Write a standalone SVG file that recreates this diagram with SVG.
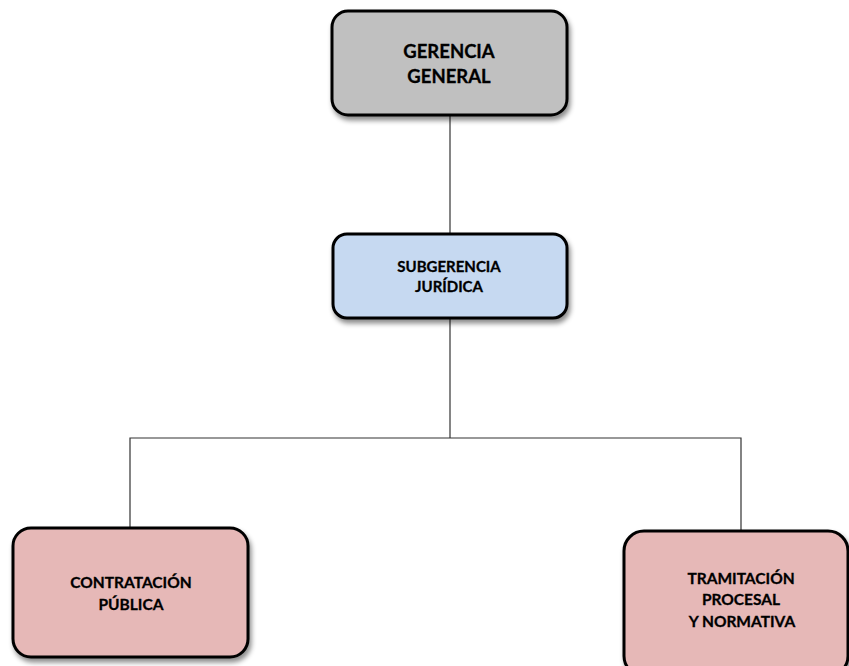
<svg xmlns="http://www.w3.org/2000/svg" width="849" height="666" viewBox="0 0 849 666">
  <style>
    .box { stroke: #000; stroke-width: 3; filter: url(#shadow); }
    .lbl { font-family: Lato, "Open Sans", "Liberation Sans", sans-serif; font-weight: bold; fill: #000; stroke: #000; stroke-width: 0.3; text-anchor: middle; }
    .conn { stroke: #333; stroke-width: 1.2; fill: none; }
  </style>
  <defs>
    <filter id="shadow" x="-10%" y="-10%" width="130%" height="140%">
      <feDropShadow dx="2" dy="4" stdDeviation="2.5" flood-color="#000" flood-opacity="0.45"/>
    </filter>
  </defs>
  <rect width="849" height="666" fill="#fff"/>

  <g id="connectors">
    <line class="conn" x1="450" y1="115" x2="450" y2="233"/>
    <line class="conn" x1="450" y1="318" x2="450" y2="438"/>
    <polyline class="conn" points="130,527 130,438 741,438 741,531"/>
  </g>

  <g id="gerencia-general">
    <rect class="box" x="332" y="11" width="235" height="104" rx="16" fill="#c0c0c0"/>
    <text class="lbl" font-size="18.5" x="449" y="58">GERENCIA</text>
    <text class="lbl" font-size="18.5" x="449" y="83">GENERAL</text>
  </g>

  <g id="subgerencia-juridica">
    <rect class="box" x="333" y="234" width="234" height="84" rx="14" fill="#c6d9f1"/>
    <text class="lbl" font-size="15" x="449" y="272">SUBGERENCIA</text>
    <text class="lbl" font-size="15" x="449" y="292">JURÍDICA</text>
  </g>

  <g id="contratacion-publica">
    <rect class="box" x="13" y="528" width="235" height="129" rx="18" fill="#e6b8b7"/>
    <text class="lbl" font-size="15.5" x="131" y="588">CONTRATACIÓN</text>
    <text class="lbl" font-size="15.5" x="131" y="610">PÚBLICA</text>
  </g>

  <g id="tramitacion-procesal">
    <rect class="box" x="624" y="531" width="224" height="145" rx="20" fill="#e6b8b7"/>
    <text class="lbl" font-size="15.5" x="741" y="584">TRAMITACIÓN</text>
    <text class="lbl" font-size="15.5" x="741" y="605">PROCESAL</text>
    <text class="lbl" font-size="15.5" x="742" y="627">Y NORMATIVA</text>
  </g>
</svg>
